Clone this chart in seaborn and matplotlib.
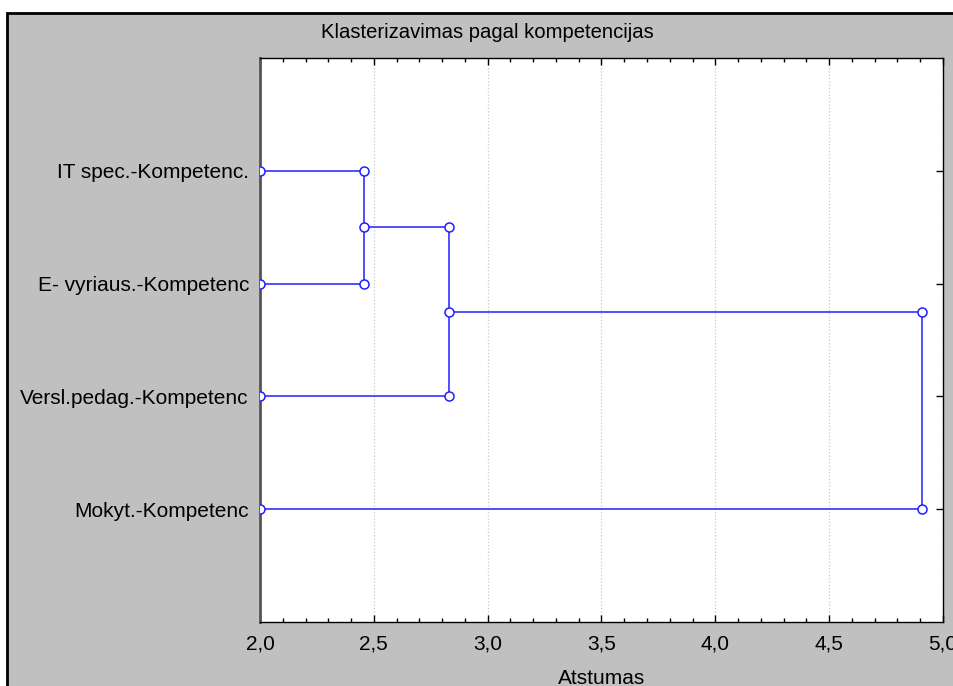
import numpy as np
import pandas as pd
import matplotlib
matplotlib.use("Agg")
import matplotlib.pyplot as plt
import seaborn as sns
from matplotlib.patches import Rectangle
from matplotlib.ticker import MultipleLocator, FuncFormatter, FixedLocator

# ---- data ----
leaf_labels = ["IT spec.-Kompetenc.", "E- vyriaus.-Kompetenc",
               "Versl.pedag.-Kompetenc", "Mokyt.-Kompetenc"]
# merges in order; ids 0-3 are leaves (display order), 4.. are new clusters
merge_left = [0, 4, 5]
merge_right = [1, 2, 3]
merge_dist = [2.457, 2.831, 4.906]
x_ticks = [2.0, 2.5, 3.0, 3.5, 4.0, 4.5, 5.0]
title = "Klasterizavimas pagal kompetencijas"
xlabel = "Atstumas"

# ---- build dendrogram segments from the linkage ----
x_min, x_max = x_ticks[0], x_ticks[-1]
height = {i: x_min for i in range(len(leaf_labels))}
pos = {i: i + 1 for i in range(len(leaf_labels))}
rows = []
for k, (l, r, d) in enumerate(zip(merge_left, merge_right, merge_dist)):
    for (xx, yy) in [(height[l], pos[l]), (d, pos[l]), (d, pos[r]), (height[r], pos[r])]:
        rows.append({"link": k, "x": xx, "y": yy})
    nid = len(leaf_labels) + k
    height[nid] = d
    pos[nid] = (pos[l] + pos[r]) / 2
df = pd.DataFrame(rows)

# ---- figure ----
sns.set_style("white")
plt.rcParams["font.family"] = ["Liberation Sans", "DejaVu Sans"]
W, H = 954, 686
fig = plt.figure(figsize=(W / 100, H / 100), dpi=100)
fig.patch.set_facecolor("white")
fig.patches.append(Rectangle((7 / W, -0.05), 1.2, 1 - 13 / H + 0.05,
                             transform=fig.transFigure, facecolor="#c0c0c0",
                             edgecolor="black", lw=2, zorder=-10))

ax = fig.add_axes([260 / W, 1 - 622 / H, (943 - 260) / W, (622 - 58) / H])
ax.set_facecolor("white")

sns.lineplot(data=df, x="x", y="y", units="link", estimator=None, sort=False,
             color="#1f1fff", lw=1.1, marker="o", markersize=6.5,
             markerfacecolor="white", markeredgecolor="#1f1fff",
             markeredgewidth=1.1, legend=False, ax=ax, zorder=3)

ax.set_xlim(x_min, x_max)
ax.set_ylim(len(leaf_labels) + 1, 0)

ax.xaxis.set_major_locator(FixedLocator(x_ticks))
ax.xaxis.set_minor_locator(MultipleLocator(0.1))
ax.xaxis.set_major_formatter(FuncFormatter(lambda v, p: f"{v:.1f}".replace(".", ",")))
ax.tick_params(axis="x", which="both", direction="in", top=True, bottom=True,
               labelsize=15, pad=9, colors="black")
ax.tick_params(axis="x", which="major", length=5, width=1)
ax.tick_params(axis="x", which="minor", length=3, width=1)

ax.set_yticks(range(1, len(leaf_labels) + 1))
ax.set_yticklabels(leaf_labels)
ax.tick_params(axis="y", which="major", direction="in", left=False, right=True,
               length=5, width=1, labelsize=15, pad=8, colors="black")

ax.grid(axis="x", which="major", color="#c8c8c8", linestyle=":", lw=0.9)
ax.grid(axis="y", visible=False)
ax.set_axisbelow(True)

for s in ax.spines.values():
    s.set_visible(True)
    s.set_color("black")
    s.set_linewidth(1.0)
ax.spines["left"].set_color("#555555")
ax.spines["left"].set_linewidth(2)

ax.set_xlabel(xlabel, fontsize=15, labelpad=11, color="black")
ax.set_ylabel("")
fig.text(487 / W, 1 - 33 / H, title, ha="center", va="center", fontsize=14.6, color="black")

fig.savefig("out.png", dpi=100, facecolor=fig.get_facecolor())
